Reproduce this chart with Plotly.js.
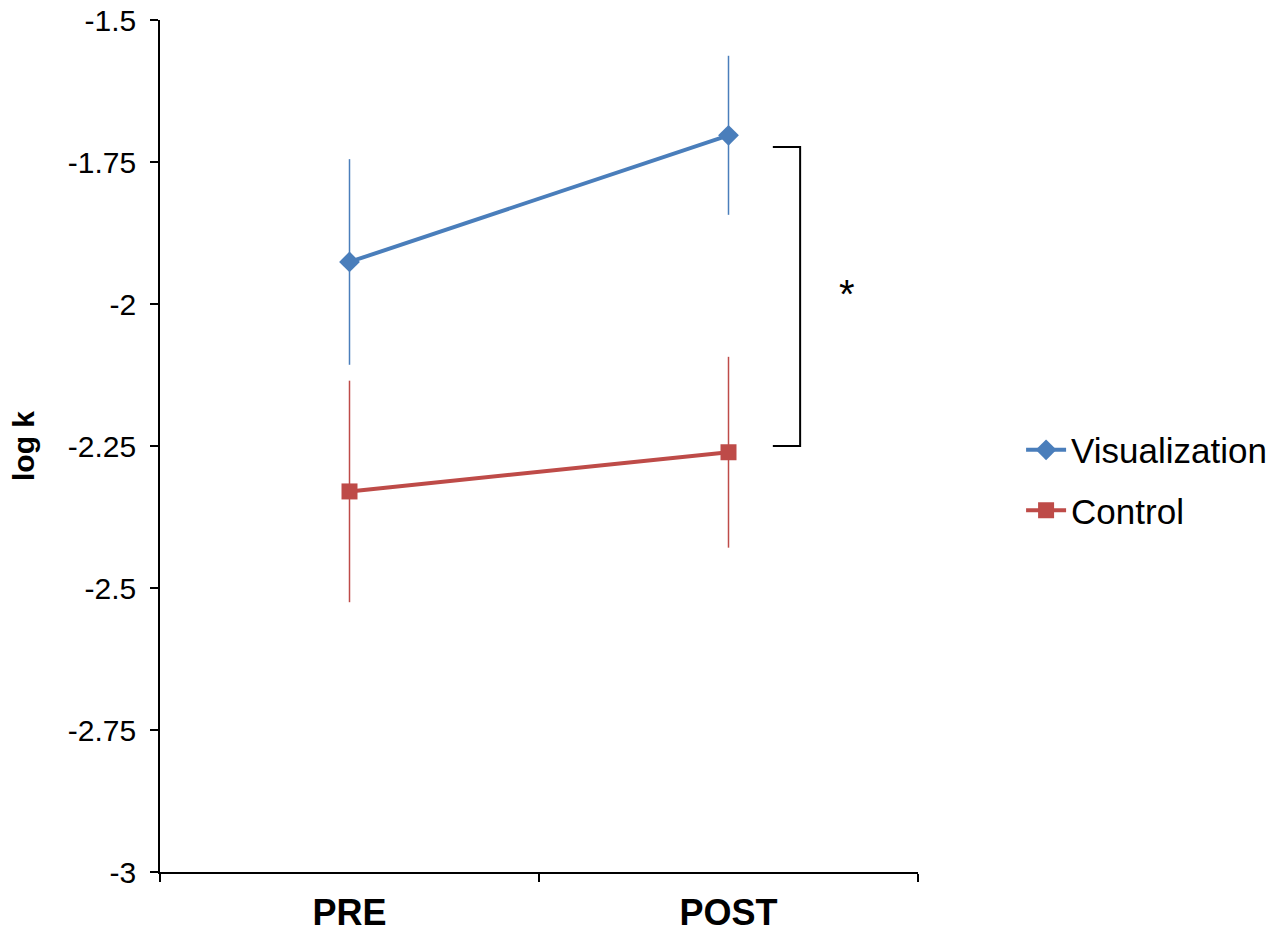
<!DOCTYPE html>
<html>
<head>
<meta charset="utf-8">
<script src="https://cdn.plot.ly/plotly-3.0.1.min.js"></script>
<style>html,body{margin:0;padding:0;background:#fff;}#chart{width:1276px;height:937px;}</style>
</head>
<body>
<div id="chart"></div>
<script>
const categories = ["PRE", "POST"];
const visMean = [-1.926, -1.703];
const visErr = [0.181, 0.140];
const ctrlMean = [-2.330, -2.261];
const ctrlErr = [0.195, 0.168];
const yTicks = [-3, -2.75, -2.5, -2.25, -2, -1.75, -1.5];
const yTickText = ["-3", "-2.75", "-2.5", "-2.25", "-2", "-1.75", "-1.5"];

const blue = "#4a7ebb";
const red = "#be4b48";

const traces = [
  {
    x: categories, y: visMean, name: "Visualization", type: "scatter", mode: "lines+markers",
    legendgroup: "a",
    line: {color: blue, width: 4},
    marker: {symbol: "diamond", size: 16, color: blue},
    error_y: {type: "data", array: visErr, visible: true, color: blue, thickness: 1.5, width: 0}
  },
  {
    x: categories, y: ctrlMean, name: "Control", type: "scatter", mode: "lines+markers",
    legendgroup: "b",
    line: {color: red, width: 4},
    marker: {symbol: "square", size: 16, color: red},
    error_y: {type: "data", array: ctrlErr, visible: true, color: red, thickness: 1.5, width: 0}
  }
];

const layout = {
  width: 1276, height: 937,
  margin: {l: 160, r: 358, t: 20, b: 65, autoexpand: false},
  paper_bgcolor: "#fff", plot_bgcolor: "#fff",
  showlegend: true,
  legend: {x: 1.136, y: 0.46, xanchor: "left", yanchor: "middle",
    traceorder: "grouped",
    font: {family: "Liberation Sans, Arial, sans-serif", size: 35, color: "#000"},
    tracegroupgap: 12, itemwidth: 40},
  xaxis: {
    type: "category", range: [-0.5, 1.5], tickson: "boundaries",
    showline: true, linecolor: "#000", linewidth: 1.5,
    ticks: "outside", ticklen: 8, tickcolor: "#000", tickwidth: 1.5,
    showgrid: false, zeroline: false, ticklabelstandoff: 8,
    tickfont: {family: "Liberation Sans Narrow, Arial Narrow, Liberation Sans, sans-serif", size: 36, color: "#000", weight: "bold"}
  },
  yaxis: {
    range: [-3, -1.5], tickvals: yTicks, ticktext: yTickText,
    showline: true, linecolor: "#000", linewidth: 1.5,
    ticks: "outside", ticklen: 8, tickcolor: "#000", tickwidth: 1.5,
    showgrid: false, zeroline: false, ticklabelstandoff: 8,
    tickfont: {family: "Liberation Sans, Arial, sans-serif", size: 30, color: "#000"},
    title: {text: "<b>log k</b>", standoff: 24, font: {family: "Liberation Sans, Arial, sans-serif", size: 30, color: "#000"}}
  },
  shapes: [
    {type: "path", xref: "x", yref: "y",
     path: "M 1.117 -1.7236 L 1.189 -1.7236 L 1.189 -2.25 L 1.117 -2.25",
     line: {color: "#000", width: 2}}
  ],
  annotations: [
    {x: 1.313, y: -1.983, xref: "x", yref: "y", text: "*", showarrow: false,
     font: {family: "Liberation Sans, Arial, sans-serif", size: 40, color: "#000"}}
  ]
};

Plotly.newPlot("chart", traces, layout, {displayModeBar: false});
</script>
</body>
</html>
